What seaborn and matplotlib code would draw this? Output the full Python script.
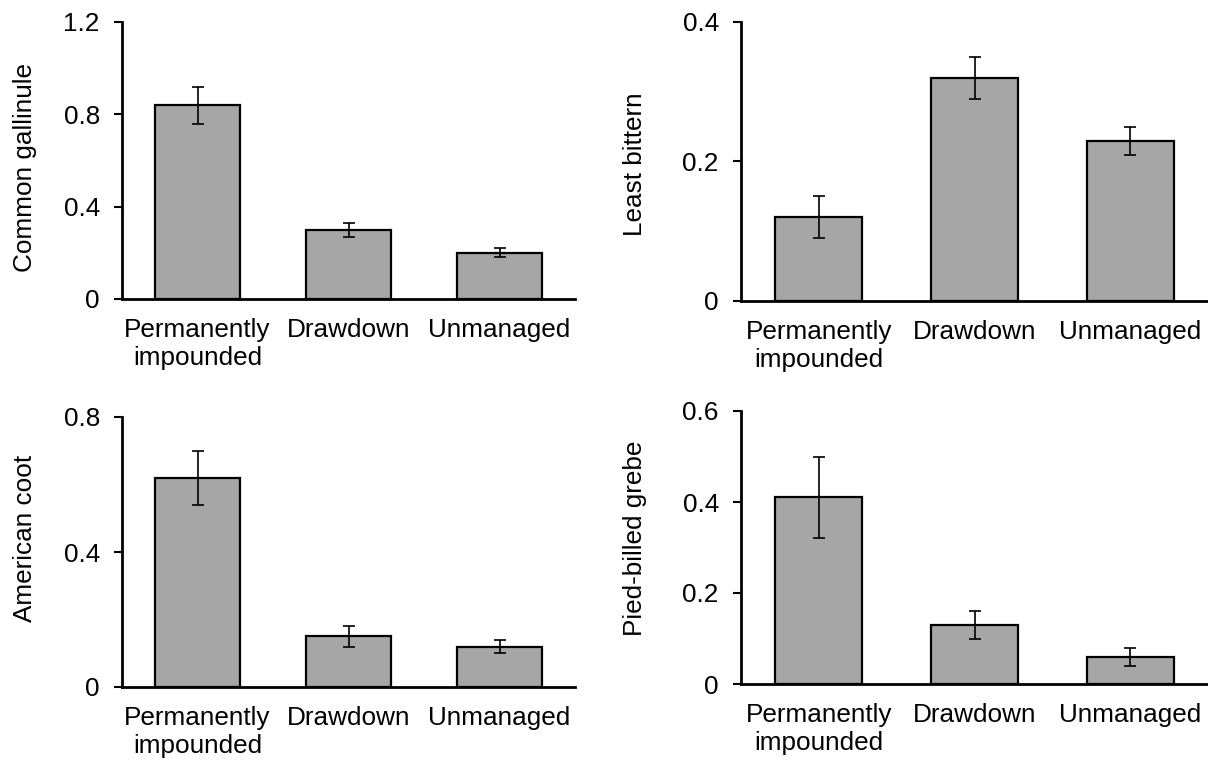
import matplotlib
matplotlib.use("Agg")
import matplotlib.pyplot as plt
import seaborn as sns
import pandas as pd

sns.set_theme(style="white")
plt.rcParams['font.family'] = ['Liberation Sans', 'DejaVu Sans']
plt.rcParams['text.color'] = 'black'
plt.rcParams['axes.labelcolor'] = 'black'
plt.rcParams['xtick.color'] = 'black'
plt.rcParams['ytick.color'] = 'black'

categories = ["Permanently\nimpounded", "Drawdown", "Unmanaged"]

gallinule = [0.84, 0.30, 0.20]
gallinule_se = [0.08, 0.03, 0.02]
bittern = [0.12, 0.32, 0.23]
bittern_se = [0.03, 0.03, 0.02]
coot = [0.62, 0.15, 0.12]
coot_se = [0.08, 0.03, 0.02]
grebe = [0.41, 0.13, 0.06]
grebe_se = [0.09, 0.03, 0.02]

panels = [
    ("Common gallinule", gallinule, gallinule_se, [0, 0.4, 0.8, 1.2], ["0", "0.4", "0.8", "1.2"], 0.476),
    ("Least bittern", bittern, bittern_se, [0, 0.2, 0.4], ["0", "0.2", "0.4"], 0.49),
    ("American coot", coot, coot_se, [0, 0.4, 0.8], ["0", "0.4", "0.8"], 0.55),
    ("Pied-billed grebe", grebe, grebe_se, [0, 0.2, 0.4, 0.6], ["0", "0.2", "0.4", "0.6"], 0.535),
]

W, H = 1208, 765
rects = [
    (122, 575, 22, 299),
    (741, 1208, 22, 301),
    (122, 575, 417, 687),
    (741, 1208, 411, 684),
]

fig = plt.figure(figsize=(W / 100, H / 100), dpi=100)
FS = 18.8

for (label, vals, errs, ticks, ticklabels, ly), (x0, x1, yt, yb) in zip(panels, rects):
    ax = fig.add_axes([x0 / W, 1 - yb / H, (x1 - x0) / W, (yb - yt) / H])
    df = pd.DataFrame({"cat": categories, "val": vals})
    sns.barplot(data=df, x="cat", y="val", ax=ax, color="#A6A6A6",
                saturation=1, edgecolor="black", linewidth=1.6, width=0.56,
                errorbar=None)
    ax.errorbar(range(len(vals)), vals, yerr=errs, fmt="none", ecolor="black",
                elinewidth=1.2, capsize=4.5, capthick=1.2, zorder=5)
    ax.set_xlim(-0.5, 2.5)
    ax.set_ylim(0, ticks[-1])
    ax.set_yticks(ticks)
    ax.set_yticklabels(ticklabels)
    ax.set_xlabel("")
    ax.set_ylabel(label, fontsize=FS, color="black")
    ax.yaxis.set_label_coords((37 - x0) / (x1 - x0) if x0 < 600 else (647 - x0) / (x1 - x0), ly)
    for s in ["top", "right"]:
        ax.spines[s].set_visible(False)
    for s in ["left", "bottom"]:
        ax.spines[s].set_linewidth(2)
        ax.spines[s].set_color("black")
    ax.tick_params(axis="y", direction="out", length=6, width=1.5, labelsize=FS, pad=10, left=True,
                   colors="black")
    ax.tick_params(axis="x", length=0, labelsize=FS, pad=14, colors="black")

fig.savefig("out.png", dpi=100)
